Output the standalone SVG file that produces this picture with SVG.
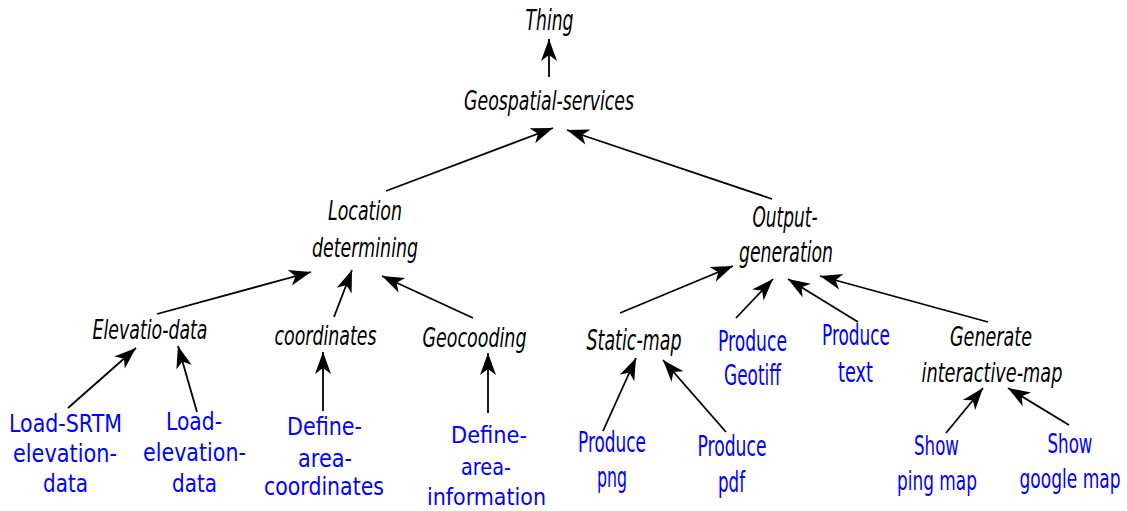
<svg xmlns="http://www.w3.org/2000/svg" width="1127" height="511" viewBox="0 0 1127 511">
  <style>
    text { font-family: "DejaVu Sans", "Liberation Sans", sans-serif; text-anchor: middle; }
    .cls { font-style: italic; fill: #000; }
    .svc { fill: #0000ff; }
    .edge { stroke: #000; stroke-width: 1.8; fill: none; marker-end: url(#arrow); }
  </style>
  <defs>
    <marker id="arrow" markerUnits="userSpaceOnUse" markerWidth="30" markerHeight="24" viewBox="-24 -12 30 24" refX="0" refY="0" orient="auto">
      <path d="M0,0 L-22,-8 L-16,0 L-22,8 Z" fill="#000"/>
    </marker>
  </defs>

  <rect width="1127" height="511" fill="#fff"/>

  <g id="connectors">
    <line class="edge" x1="549" y1="77" x2="549" y2="39"/>
    <line class="edge" x1="386" y1="191" x2="553" y2="128"/>
    <line class="edge" x1="772" y1="199" x2="567" y2="130"/>
    <line class="edge" x1="157" y1="314" x2="311" y2="272"/>
    <line class="edge" x1="334" y1="317" x2="352" y2="270"/>
    <line class="edge" x1="473" y1="318" x2="382" y2="276"/>
    <line class="edge" x1="68" y1="408" x2="136" y2="348"/>
    <line class="edge" x1="197" y1="412" x2="178" y2="346"/>
    <line class="edge" x1="323" y1="411" x2="323" y2="352"/>
    <line class="edge" x1="488" y1="413" x2="488" y2="353"/>
    <line class="edge" x1="620" y1="313" x2="733" y2="266"/>
    <line class="edge" x1="736" y1="318" x2="773" y2="279"/>
    <line class="edge" x1="858" y1="322" x2="788" y2="279"/>
    <line class="edge" x1="988" y1="322" x2="820" y2="276"/>
    <line class="edge" x1="603" y1="431" x2="636" y2="358"/>
    <line class="edge" x1="726" y1="432" x2="663" y2="360"/>
    <line class="edge" x1="946" y1="433" x2="983" y2="388"/>
    <line class="edge" x1="1069" y1="425" x2="1008" y2="388"/>
  </g>

  <g id="thing"><text class="cls" x="549.5" y="30" font-size="28" textLength="48" lengthAdjust="spacingAndGlyphs">Thing</text></g>
  <g id="geospatial-services"><text class="cls" x="549" y="110" font-size="27" textLength="170" lengthAdjust="spacingAndGlyphs">Geospatial-services</text></g>
  <g id="location-determining">
    <text class="cls" x="365" y="220" font-size="26" textLength="74" lengthAdjust="spacingAndGlyphs">Location</text>
    <text class="cls" x="365" y="257" font-size="26" textLength="106" lengthAdjust="spacingAndGlyphs">determining</text>
  </g>
  <g id="output-generation">
    <text class="cls" x="785" y="227" font-size="28" textLength="65" lengthAdjust="spacingAndGlyphs">Output-</text>
    <text class="cls" x="786" y="262" font-size="28" textLength="94" lengthAdjust="spacingAndGlyphs">generation</text>
  </g>
  <g id="elevatio-data"><text class="cls" x="150" y="339" font-size="27" textLength="115" lengthAdjust="spacingAndGlyphs">Elevatio-data</text></g>
  <g id="coordinates"><text class="cls" x="325.5" y="345" font-size="27" textLength="102" lengthAdjust="spacingAndGlyphs">coordinates</text></g>
  <g id="geocooding"><text class="cls" x="474.5" y="347" font-size="27" textLength="104" lengthAdjust="spacingAndGlyphs">Geocooding</text></g>
  <g id="static-map"><text class="cls" x="634" y="350" font-size="28" textLength="95" lengthAdjust="spacingAndGlyphs">Static-map</text></g>
  <g id="generate-interactive-map">
    <text class="cls" x="991" y="346" font-size="27" textLength="82" lengthAdjust="spacingAndGlyphs">Generate</text>
    <text class="cls" x="992" y="382" font-size="27" textLength="141" lengthAdjust="spacingAndGlyphs">interactive-map</text>
  </g>

  <g id="load-srtm-elevation-data">
    <text class="svc" x="65.5" y="432" font-size="24" textLength="113" lengthAdjust="spacingAndGlyphs">Load-SRTM</text>
    <text class="svc" x="65" y="462" font-size="24" textLength="104" lengthAdjust="spacingAndGlyphs">elevation-</text>
    <text class="svc" x="65.5" y="492" font-size="24" textLength="45" lengthAdjust="spacingAndGlyphs">data</text>
  </g>
  <g id="load-elevation-data">
    <text class="svc" x="194" y="430" font-size="24" textLength="56" lengthAdjust="spacingAndGlyphs">Load-</text>
    <text class="svc" x="194.5" y="461" font-size="24" textLength="103" lengthAdjust="spacingAndGlyphs">elevation-</text>
    <text class="svc" x="194.5" y="492" font-size="24" textLength="45" lengthAdjust="spacingAndGlyphs">data</text>
  </g>
  <g id="define-area-coordinates">
    <text class="svc" x="324.5" y="435" font-size="24" textLength="75" lengthAdjust="spacingAndGlyphs">Define-</text>
    <text class="svc" x="325" y="467" font-size="24" textLength="54" lengthAdjust="spacingAndGlyphs">area-</text>
    <text class="svc" x="324" y="495" font-size="24" textLength="120" lengthAdjust="spacingAndGlyphs">coordinates</text>
  </g>
  <g id="define-area-information">
    <text class="svc" x="489" y="443" font-size="23" textLength="76" lengthAdjust="spacingAndGlyphs">Define-</text>
    <text class="svc" x="486" y="475" font-size="23" textLength="50" lengthAdjust="spacingAndGlyphs">area-</text>
    <text class="svc" x="486.5" y="505" font-size="23" textLength="119" lengthAdjust="spacingAndGlyphs">information</text>
  </g>
  <g id="produce-png">
    <text class="svc" x="612" y="452" font-size="28" textLength="68" lengthAdjust="spacingAndGlyphs">Produce</text>
    <text class="svc" x="612" y="487" font-size="28" textLength="30" lengthAdjust="spacingAndGlyphs">png</text>
  </g>
  <g id="produce-pdf">
    <text class="svc" x="732" y="456" font-size="28" textLength="69" lengthAdjust="spacingAndGlyphs">Produce</text>
    <text class="svc" x="731.5" y="492" font-size="28" textLength="27" lengthAdjust="spacingAndGlyphs">pdf</text>
  </g>
  <g id="produce-geotiff">
    <text class="svc" x="752.5" y="351" font-size="28" textLength="69" lengthAdjust="spacingAndGlyphs">Produce</text>
    <text class="svc" x="752.5" y="385" font-size="28" textLength="57" lengthAdjust="spacingAndGlyphs">Geotiff</text>
  </g>
  <g id="produce-text">
    <text class="svc" x="856" y="345" font-size="28" textLength="68" lengthAdjust="spacingAndGlyphs">Produce</text>
    <text class="svc" x="855.5" y="382" font-size="28" textLength="35" lengthAdjust="spacingAndGlyphs">text</text>
  </g>
  <g id="show-ping-map">
    <text class="svc" x="936.5" y="455" font-size="27" textLength="45" lengthAdjust="spacingAndGlyphs">Show</text>
    <text class="svc" x="937" y="490" font-size="27" textLength="80" lengthAdjust="spacingAndGlyphs">ping map</text>
  </g>
  <g id="show-google-map">
    <text class="svc" x="1070" y="453" font-size="27" textLength="45" lengthAdjust="spacingAndGlyphs">Show</text>
    <text class="svc" x="1070" y="488" font-size="27" textLength="101" lengthAdjust="spacingAndGlyphs">google map</text>
  </g>
</svg>
